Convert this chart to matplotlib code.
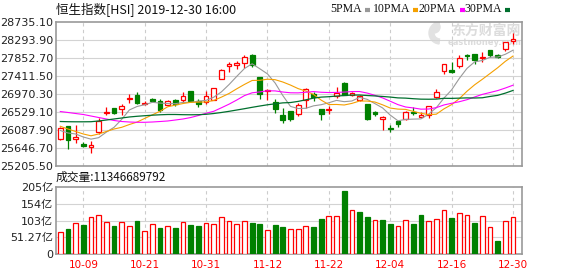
import matplotlib.pyplot as plt
from matplotlib.patches import Rectangle, Wedge
from matplotlib.lines import Line2D
from matplotlib.transforms import IdentityTransform

plt.rcParams['font.family'] = ['DejaVu Sans', 'Noto Sans CJK SC']

# trading days shown (2019)
dates = ['10-03', '10-04', '10-08', '10-09', '10-10', '10-11', '10-14', '10-15', '10-16', '10-17',
         '10-18', '10-21', '10-22', '10-23', '10-24', '10-25', '10-28', '10-29', '10-30', '10-31',
         '11-01', '11-04', '11-05', '11-06', '11-07', '11-08', '11-11', '11-12', '11-13', '11-14',
         '11-15', '11-18', '11-19', '11-20', '11-21', '11-22', '11-25', '11-26', '11-27', '11-28',
         '11-29', '12-02', '12-03', '12-04', '12-05', '12-06', '12-09', '12-10', '12-11', '12-12',
         '12-13', '12-16', '12-17', '12-18', '12-19', '12-20', '12-23', '12-24', '12-27', '12-30']

opens = [25860, 26186, 25875, 25745, 25664, 26032, 26500, 26620, 26595, 26841,
         26946, 26730, 26848, 26799, 26708, 26823, 26816, 27044, 26806, 26767,
         26823, 27345, 27649, 27681, 27738, 27934, 27380, 27040, 26774, 26456,
         26554, 26473, 26823, 26980, 26603, 26578, 26930, 27233, 26950, 26816,
         26725, 26522, 26350, 26125, 26309, 26350, 26540, 26414, 26456, 26890,
         27541, 27559, 27657, 27930, 27951, 27845, 28049, 27926, 28066, 28270]
highs = [26160, 26195, 26203, 25794, 25811, 26382, 26652, 26625, 26725, 26970,
         27019, 26806, 26872, 26840, 26831, 26848, 27019, 27050, 26840, 27044,
         27115, 27576, 27755, 27772, 27934, 27940, 27390, 27100, 26855, 26620,
         26560, 26742, 27110, 27020, 26610, 26680, 27145, 27265, 27010, 26950,
         26730, 26545, 26431, 26215, 26320, 26560, 26640, 26530, 26680, 27090,
         27710, 27747, 27920, 27960, 27960, 27990, 28055, 27940, 28250, 28458]
lows = [25845, 25630, 25777, 25664, 25532, 25997, 26456, 26480, 26463, 26742,
        26725, 26693, 26774, 26537, 26684, 26676, 26782, 26774, 26644, 26725,
        26815, 27340, 27502, 27590, 27600, 27625, 26855, 26823, 26497, 26252,
        26316, 26438, 26635, 26790, 26340, 26480, 26880, 26935, 26921, 26800,
        26333, 26430, 26090, 26030, 26169, 26340, 26450, 26400, 26390, 26880,
        27453, 27478, 27600, 27800, 27713, 27750, 27885, 27860, 28032, 28196]
closes = [26137, 25850, 25924, 25696, 25713, 26316, 26530, 26510, 26669, 26870,
          26740, 26750, 26800, 26578, 26810, 26725, 26914, 26800, 26720, 26914,
          27110, 27570, 27700, 27720, 27877, 27690, 26960, 27070, 26600, 26340,
          26360, 26700, 27100, 26900, 26480, 26600, 26990, 26940, 26985, 26920,
          26358, 26470, 26410, 26105, 26230, 26520, 26510, 26460, 26670, 27010,
          27700, 27520, 27860, 27900, 27810, 27870, 27920, 27880, 28240, 28310]

ma5 = [26076, 26015, 25990, 25916, 25864, 25900, 26036, 26153, 26348, 26579,
       26664, 26708, 26766, 26748, 26736, 26733, 26765, 26765, 26794, 26815,
       26892, 27023, 27203, 27403, 27595, 27711, 27589, 27463, 27239, 26932,
       26666, 26614, 26620, 26680, 26708, 26756, 26814, 26782, 26799, 26887,
       26839, 26735, 26629, 26453, 26315, 26347, 26355, 26360, 26478, 26634,
       26870, 27072, 27352, 27598, 27758, 27792, 27872, 27876, 27944, 28044]
ma10 = [26179, 26112, 26051, 25990, 25946, 25990, 26051, 26112, 26154, 26222,
        26282, 26372, 26459, 26548, 26657, 26698, 26737, 26766, 26771, 26775,
        26812, 26894, 26984, 27098, 27205, 27302, 27306, 27333, 27321, 27264,
        27189, 27102, 27042, 26960, 26820, 26711, 26714, 26701, 26740, 26798,
        26797, 26774, 26705, 26626, 26600, 26593, 26545, 26497, 26465, 26475,
        26606, 26711, 26856, 27038, 27196, 27331, 27472, 27614, 27771, 27901]
ma20 = [26541, 26517, 26492, 26468, 26431, 26394, 26358, 26321, 26296, 26284,
        26277, 26277, 26284, 26296, 26309, 26333, 26358, 26394, 26443, 26498,
        26547, 26633, 26722, 26823, 26931, 27000, 27021, 27049, 27046, 27019,
        27000, 26998, 27013, 27029, 27013, 27006, 27010, 27017, 27030, 27031,
        26993, 26938, 26874, 26793, 26710, 26652, 26629, 26599, 26602, 26636,
        26702, 26743, 26781, 26831, 26897, 26961, 27007, 27054, 27117, 27186]
ma30 = [26296, 26291, 26289, 26289, 26291, 26309, 26333, 26358, 26382, 26407,
        26424, 26438, 26451, 26461, 26468, 26468, 26463, 26461, 26463, 26473,
        26492, 26517, 26546, 26578, 26610, 26644, 26676, 26706, 26730, 26753,
        26761, 26789, 26828, 26869, 26894, 26904, 26919, 26933, 26944, 26945,
        26933, 26923, 26910, 26895, 26875, 26869, 26855, 26844, 26842, 26845,
        26865, 26863, 26869, 26875, 26872, 26878, 26910, 26937, 26992, 27058]

# turnover, 100 million HKD (亿)
volume = [66.7, 77.8, 94, 89, 112, 118, 97, 86, 97, 85,
          101, 70.8, 91, 80, 85, 80, 97, 89, 86, 94,
          91, 112, 100, 91, 100, 95, 92, 74, 89, 83,
          76, 76, 85, 83, 107, 115, 115, 192, 134.5, 128,
          113, 104, 104, 92, 86, 104, 92, 119, 101, 107,
          134.5, 110, 125, 119, 95, 116, 83, 41.5, 101, 113.47]

price_ticks = [25205.50, 25646.70, 26087.90, 26529.10, 26970.30,
               27411.50, 27852.70, 28293.90, 28735.10]
vol_ticks = [0, 51.27, 102.54, 153.81, 205.08]
vol_labels = ['0', '51.27亿', '103亿', '154亿', '205亿']
label_idx = [3, 11, 19, 27, 35, 43, 51, 59]

RED = '#ff0000'
GREEN = '#008000'
W, H = 578, 276
x = list(range(len(dates)))

fig = plt.figure(figsize=(W / 100, H / 100), dpi=100)
ax = fig.add_axes([56 / W, 1 - 166 / H, 466 / W, 144 / H])
axv = fig.add_axes([56 / W, 1 - 254.3 / H, 466 / W, 67.6 / H])

for a in (ax, axv):
    a.set_xlim(-0.56, 60.17)
    for s in a.spines.values():
        s.set_color('#999999')
        s.set_linewidth(1.2)
    a.tick_params(length=0, labelsize=8, colors='#222222', pad=2)
    for i in label_idx:
        a.axvline(i, color='#cccccc', lw=0.8, ls=(0, (3, 3)), zorder=0)
    a.set_xticks([])

# watermark (under the candles)
ax.text(486, 276 - 30.5, '东方财富网', fontsize=10, fontweight='bold', color='#dcdcdc',
        ha='center', va='center', family='Noto Sans CJK SC',
        transform=IdentityTransform(), zorder=0)
ax.text(485, 276 - 42.5, 'eastmoney.com', fontsize=6, fontweight='bold', color='#dcdcdc',
        ha='center', va='center', transform=IdentityTransform(), zorder=0)
ax.add_patch(Wedge((440, 276 - 33), 11, 95, 265, width=5, color='#e2e2e2',
                   transform=IdentityTransform(), zorder=0))
ax.add_patch(Wedge((434, 276 - 27), 6, 275, 80, width=3, color='#e2e2e2',
                   transform=IdentityTransform(), zorder=0))

# price panel
ax.set_ylim(price_ticks[0], price_ticks[-1])
ax.set_yticks(price_ticks)
ax.set_yticklabels(['%.2f' % v for v in price_ticks])
for v in price_ticks[1:-1]:
    ax.axhline(v, color='#d3d3d3', lw=0.8, zorder=0)

bw = 0.62
for i in x:
    o, h, l, c = opens[i], highs[i], lows[i], closes[i]
    up = c >= o
    col = RED if up else GREEN
    ax.vlines(i, l, h, color=col, lw=0.9, zorder=2)
    ax.add_patch(Rectangle((i - bw / 2, min(o, c)), bw, max(abs(c - o), 4),
                           facecolor='white' if up else GREEN, edgecolor=col,
                           lw=0.9, zorder=3))

ax.plot(x, ma5, color='#999999', lw=0.8, zorder=4)
ax.plot(x, ma10, color='#f5a000', lw=0.8, zorder=4)
ax.plot(x, ma20, color='#ff00ff', lw=0.8, zorder=4)
ax.plot(x, ma30, color='#006f2e', lw=0.9, zorder=4)

# volume panel, coloured by change against previous close
axv.set_ylim(0, vol_ticks[-1])
axv.set_yticks(vol_ticks)
axv.set_yticklabels(vol_labels)
for v in vol_ticks[1:-1]:
    axv.axhline(v, color='#d3d3d3', lw=0.8, zorder=0)
for i in x:
    prev = closes[i - 1] if i > 0 else opens[i]
    up = closes[i] >= prev
    col = RED if up else GREEN
    axv.add_patch(Rectangle((i - bw / 2, 0), bw, volume[i],
                            facecolor='white' if up else GREEN, edgecolor=col,
                            lw=0.9, zorder=3))
axv.set_xticks(label_idx)
axv.set_xticklabels([dates[i] for i in label_idx], color=RED, fontsize=7.5)
axv.tick_params(axis='x', pad=4)

# texts
fig.text(56 / W, 1 - 10 / H, '恒生指数[HSI] 2019-12-30 16:00', fontsize=9,
         va='center', ha='left', color='#111111',
         family=['Noto Sans CJK SC', 'DejaVu Sans'])
fig.text(56 / W, 1 - 177 / H, '成交量:11346689792', fontsize=8.5,
         va='center', ha='left', color='#111111',
         family=['Noto Sans CJK SC', 'DejaVu Sans'])

legend = [('5PMA', '#999999', 362, 365), ('10PMA', '#f5a000', 410, 413),
          ('20PMA', '#ff00ff', 456, 460), ('30PMA', '#006f2e', 502, 505)]
for name, col, tx, lx in legend:
    fig.text(tx / W, 1 - 9 / H, name, fontsize=8.5, va='center', ha='right',
             color='#111111', family='Liberation Serif')
    fig.add_artist(Line2D([lx / W, (lx + 5) / W], [1 - 9.5 / H, 1 - 9.5 / H],
                          color=col, lw=3, solid_capstyle='butt'))

fig.savefig('out.png', dpi=100)
